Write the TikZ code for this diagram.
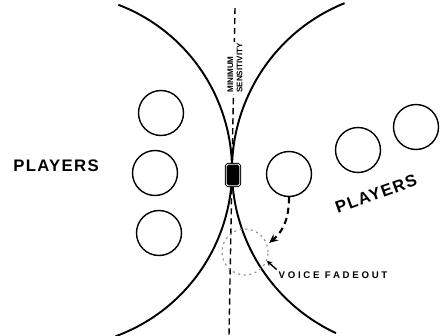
\documentclass[tikz,border=0pt]{standalone}
\usepackage{fontspec}
\setmainfont{Liberation Sans}
\usetikzlibrary{arrows.meta, positioning, calc}

\begin{document}
\begin{tikzpicture}[
    x=0.02cm, y=-0.02cm,
    >=Stealth,
    player/.style={draw, circle, minimum size=0.9cm, inner sep=0pt,
                   line width=0.8pt},
    field/.style={line width=1.1pt},
    fadezone/.style={draw=black!40, circle, minimum size=0.92cm, inner sep=0pt,
                     line width=0.7pt, dash pattern=on 1.2pt off 2pt},
    mike/.style={draw, double, double distance=0.5pt, fill=black,
                 rounded corners=1pt, minimum width=0.27cm,
                 minimum height=0.43cm, inner sep=0pt, line width=0.5pt},
    axis/.style={line width=0.8pt, dash pattern=on 3.5pt off 2.2pt},
    cue/.style={-{Stealth[length=5pt, width=4.5pt]}, line width=1.2pt,
                dash pattern=on 3.5pt off 2.5pt},
    pointer/.style={-{Stealth[length=3pt, width=3pt]}, line width=0.8pt},
    lettering/.style={font=\fontsize{9.5}{10}\selectfont\bfseries\addfontfeatures{LetterSpace=8},
                      inner sep=1pt},
    tag/.style={font=\fontsize{5.5}{6}\selectfont\bfseries\addfontfeatures{LetterSpace=28},
                inner sep=1pt},
    smalltag/.style={font=\fontsize{4.6}{5.4}\selectfont\bfseries, align=left,
                     inner sep=0.5pt, fill=white},
]
\useasboundingbox (0,0) rectangle (448,335);

% ============================================================
% PICK-UP FIELDS (two arcs meeting at the microphone)
% ============================================================
\draw[field] (55,170) ++(69:3.54cm) arc[start angle=69, end angle=-70, radius=3.54cm];
\draw[field] (412,170) ++(112:3.6cm) arc[start angle=112, end angle=245, radius=3.6cm];

% --- Null axis ---
\coordinate (axtop) at (235,8);
\coordinate (axbot) at (229,335);
\draw[axis] (axtop) -- (axbot);

\node[smalltag, rotate=90] (null) at (235,68) {MINIMUM\\SENSITIVITY};

% --- Microphone ---
\node[mike] (mic) at (233,175) {};

% ============================================================
% PLAYERS
% ============================================================
\node[player] (p1) at (161,113) {};
\node[player] (p2) at (155,173) {};
\node[player] (p3) at (159,233) {};

\node[player] (p4) at (289,174) {};
\node[player] (p5) at (358,150) {};
\node[player] (p6) at (416,127) {};

\node[lettering] (teamL) at (56,166) {PLAYERS};
\node[lettering, rotate=20] (teamR) at (376,194) {PLAYERS};

% ============================================================
% FADEOUT ZONE
% ============================================================
\node[fadezone] (fade) at (245,252) {};

\draw[cue] (p4.south) to[out=-90, in=40] ([shift={(2,-1)}]fade.20);

\node[tag] (voice) at (333,275) {VOICE FADEOUT};
\draw[pointer] (voice.north west) -- (fade.-22);

\end{tikzpicture}
\end{document}
